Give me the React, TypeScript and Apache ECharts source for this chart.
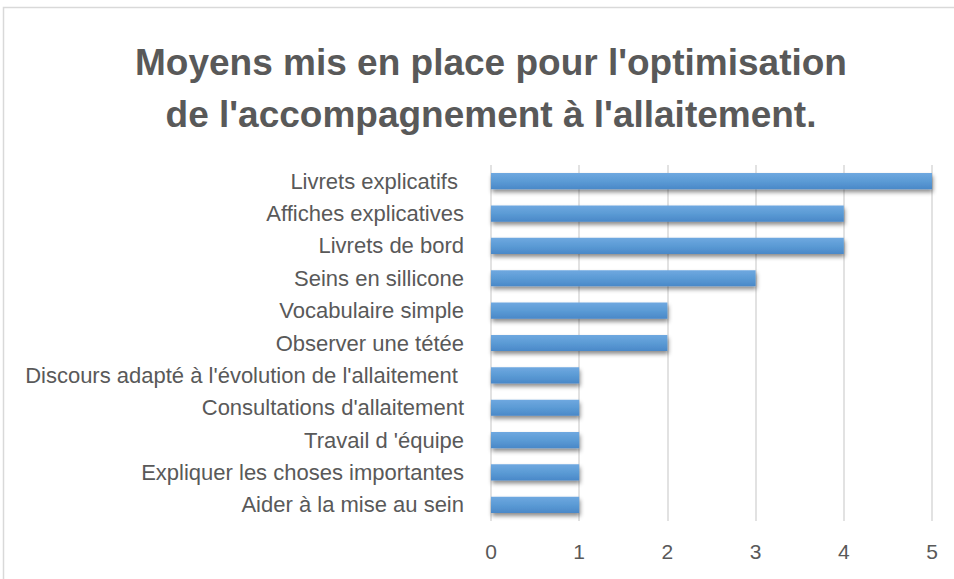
import React, { useEffect, useRef } from "react";
import * as echarts from "echarts";

const categories = [
  "Livrets explicatifs ",
  "Affiches explicatives",
  "Livrets de bord",
  "Seins en sillicone",
  "Vocabulaire simple",
  "Observer une tétée",
  "Discours adapté à l'évolution de l'allaitement ",
  "Consultations d'allaitement",
  "Travail d 'équipe",
  "Expliquer les choses importantes",
  "Aider à la mise au sein",
];
const values = [5, 4, 4, 3, 2, 2, 1, 1, 1, 1, 1];
const xTicks = [0, 1, 2, 3, 4, 5];
const titleLines = [
  "Moyens mis en place pour l'optimisation",
  "de l'accompagnement à l'allaitement.",
];

export default function App() {
  const ref = useRef<HTMLDivElement>(null);
  useEffect(() => {
    if (!ref.current) return;
    const chart = echarts.init(ref.current, null, { renderer: "svg" });
    chart.setOption({
      animation: false,
      backgroundColor: "#ffffff",
      graphic: [
        {
          type: "rect",
          shape: { x: 3.5, y: 7.5, width: 1000, height: 700 },
          style: { fill: "none", stroke: "#d9d9d9", lineWidth: 1.5 },
          silent: true,
        },
      ],
      title: {
        text: titleLines.join("\n"),
        left: 486,
        textAlign: "center",
        top: 31,
        textStyle: {
          fontFamily: "Liberation Sans",
          fontWeight: "bold",
          fontSize: 37,
          color: "#595959",
          lineHeight: 52,
        },
      },
      grid: { left: 491, right: 22, top: 165, bottom: 58 },
      xAxis: {
        type: "value",
        min: xTicks[0],
        max: xTicks[xTicks.length - 1],
        interval: 1,
        axisLine: { show: false },
        axisTick: { show: false },
        splitLine: { show: true, lineStyle: { color: "#d9d9d9", width: 1.5 } },
        axisLabel: {
          margin: 20,
          fontFamily: "Liberation Sans",
          fontSize: 21,
          color: "#595959",
        },
      },
      yAxis: {
        type: "category",
        inverse: true,
        data: categories,
        axisLine: { show: false },
        axisTick: { show: false },
        axisLabel: {
          margin: 27,
          fontFamily: "Liberation Sans",
          fontSize: 22,
          color: "#595959",
        },
      },
      series: [
        {
          type: "bar",
          data: values,
          barWidth: "50%",
          itemStyle: {
            color: new echarts.graphic.LinearGradient(0, 0, 0, 1, [
              { offset: 0, color: "#6fa8e0" },
              { offset: 0.5, color: "#5b9bd5" },
              { offset: 1, color: "#4a88c8" },
            ]),
            shadowColor: "rgba(0,0,0,0.45)",
            shadowBlur: 4,
            shadowOffsetX: 1,
            shadowOffsetY: 3,
          },
        },
      ],
    });
    return () => chart.dispose();
  }, []);
  return (
    <div
      ref={ref}
      style={{ position: "absolute", left: 0, top: 0, width: 954, height: 579 }}
    />
  );
}
